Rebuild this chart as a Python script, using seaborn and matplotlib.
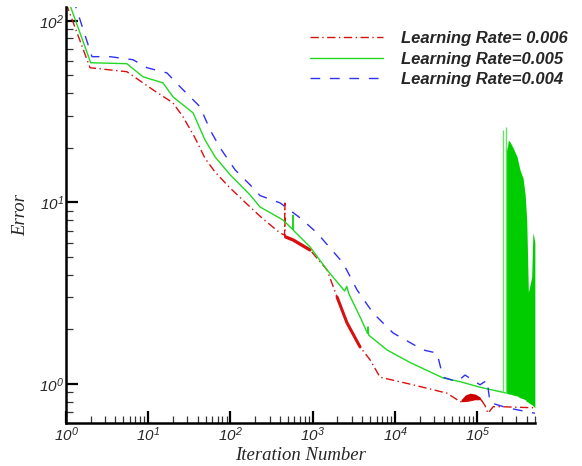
import math
import seaborn as sns
import matplotlib.pyplot as plt
from matplotlib.ticker import LogLocator, FuncFormatter, NullFormatter

# Learning rate 0.006 (red, dash-dot)
red_iter = [1, 1.96, 5.5, 11.4, 20, 26.5, 37, 49, 65, 99, 173, 249, 401, 455, 460, 462,
            470, 578, 700, 929, 1497, 1983, 2620, 3776, 4990, 6607, 16640, 43150, 62100,
            66000, 82000, 100000, 112000, 125000, 136000, 157000, 200000, 300000, 505000]
red_err = [125, 55.1, 52.4, 41.7, 35.3, 29.6, 22.7, 17.5, 14.7, 12.0, 9.44, 8.11, 6.79, 6.6, 9.9, 6.5,
           6.45, 6.21, 5.9, 5.47, 4.25, 3.01, 2.17, 1.60, 1.36, 1.09, 0.99, 0.89, 0.80,
           0.80, 0.81, 0.82, 0.82, 0.76, 0.69, 0.75, 0.75, 0.745, 0.74]
# noisy bump of the red curve near 1e5
red_band_x = [64000, 72000, 82000, 95000, 108000, 115000]
red_band_lo = [0.80, 0.80, 0.81, 0.82, 0.82, 0.80]
red_band_hi = [0.82, 0.87, 0.89, 0.88, 0.85, 0.81]

# Learning rate 0.005 (green, solid)
green_iter = [1, 2.0, 5.5, 8.65, 15.1, 20, 35.1, 49, 65, 99, 173, 229, 436, 570, 578, 586,
              929, 1497, 2450, 2600, 2750, 3776, 4650, 4724, 4800, 8035, 15500, 38550,
              62100, 108700, 207000, 231800]
green_err = [140, 58.7, 58.0, 49.1, 45.5, 38.1, 31.1, 22.1, 17.8, 14.2, 11.0, 9.44, 8.0, 7.1, 8.5, 7.0,
             5.69, 4.25, 3.25, 3.45, 3.15, 2.34, 1.9, 2.06, 1.86, 1.54, 1.31, 1.08,
             1.03, 0.96, 0.90, 0.89]
# oscillating tail of the green curve
osc_x = [226000, 232000, 240000, 252000, 274000, 307000, 333000, 363000, 385000, 402000,
         412000, 421000, 440000, 462000, 478000, 490000, 505000]
osc_hi = [21, 19.4, 22, 21.5, 20, 17.8, 15.1, 13.6, 11, 8.0, 5, 3.2, 3.5, 3.9, 6.8, 6.5, 6.0]
osc_lo = [0.89, 0.89, 0.88, 0.88, 0.87, 0.86, 0.84, 0.83, 0.82, 0.80, 0.80, 0.79, 0.78, 0.77,
          0.76, 0.75, 0.74]
spike_x = [207000, 225000]
spike_top = [25, 26]
spike_bot = [0.90, 0.89]

# Learning rate 0.004 (blue, dashed)
blue_iter = [1, 2.07, 3.43, 6.53, 9.67, 16.9, 24.4, 42.7, 56.5, 74.7, 114, 173, 229, 401, 703,
             1132, 1629, 2344, 3467, 5430, 9510, 22030, 32600, 38550, 57150, 71450, 108700,
             132400, 143900, 231800, 505000]
blue_err = [175, 63.4, 63.4, 61.0, 55.1, 51.6, 43.3, 33.6, 25.1, 20.0, 15.1, 12.5, 10.9, 9.94, 8.22,
            6.79, 5.61, 4.64, 3.30, 2.46, 1.91, 1.54, 1.48, 1.09, 1.03, 1.12, 0.99,
            1.05, 0.79, 0.74, 0.69]

labels = ["Learning Rate= 0.006", "Learning Rate=0.005", "Learning Rate=0.004"]
RED, GREEN, BLUE = "#d81010", "#22d822", "#3030f0"

sns.set_style("white")
plt.rcParams["font.family"] = ["Liberation Sans", "DejaVu Sans"]
plt.rcParams["mathtext.fontset"] = "custom"
plt.rcParams["mathtext.rm"] = "Liberation Sans:italic"
plt.rcParams["mathtext.it"] = "Liberation Sans:italic"

fig = plt.figure(figsize=(5.82, 4.66), dpi=100)
ax = fig.add_axes([66 / 582, 43 / 466, 469 / 582, 416 / 466])
ax.set_xscale("log")
ax.set_yscale("log")

sns.lineplot(x=red_iter, y=red_err, ax=ax, color=RED, lw=1.0, estimator=None, sort=False)
red_line = ax.lines[-1]
red_line.set_dashes((6, 2.5, 1, 2.5))
# thick noisy stretches of the red curve
sns.lineplot(x=red_iter[16:20], y=red_err[16:20], ax=ax, color=RED, lw=2.4, estimator=None, sort=False)
sns.lineplot(x=red_iter[21:24], y=red_err[21:24], ax=ax, color=RED, lw=2.2, estimator=None, sort=False)
ax.fill_between(red_band_x, red_band_lo, red_band_hi, color="#cc0000", lw=0)

sns.lineplot(x=green_iter, y=green_err, ax=ax, color=GREEN, lw=1.0, estimator=None, sort=False)
green_line = ax.lines[-1]
ax.fill_between(osc_x, osc_lo, osc_hi, color="#00cc00", lw=0)
ax.vlines(spike_x, spike_bot, spike_top, color="#66e066", lw=1.0)

sns.lineplot(x=blue_iter, y=blue_err, ax=ax, color=BLUE, lw=1.0, estimator=None, sort=False)
blue_line = ax.lines[-1]
blue_line.set_dashes((7, 7))

ax.set_xlim(1, 5.07e5)
ax.set_ylim(0.61, 119)

for side in ["top", "right"]:
    ax.spines[side].set_visible(False)
for side in ["left", "bottom"]:
    ax.spines[side].set_linewidth(1.8)
    ax.spines[side].set_color("black")

fmt = FuncFormatter(lambda v, p: r"$10^{%d}$" % round(math.log10(v)))
for axis in (ax.xaxis, ax.yaxis):
    axis.set_major_locator(LogLocator(base=10, numticks=20))
    axis.set_minor_locator(LogLocator(base=10, subs=range(2, 10), numticks=20))
    axis.set_major_formatter(fmt)
    axis.set_minor_formatter(NullFormatter())
ax.tick_params(which="major", direction="in", length=8.5, width=1.6, labelsize=11, pad=1.5,
               top=False, right=False, left=True, bottom=True, color="black")
ax.tick_params(which="minor", direction="in", length=5, width=0.9,
               top=False, right=False, left=True, bottom=True, color="#333333")

ax.set_xlabel("Iteration Number", family="Liberation Serif", style="italic", fontsize=13.5)
ax.set_ylabel("Error", family="Liberation Serif", style="italic", fontsize=13.5)
ax.xaxis.set_label_coords(0.5, -0.058)
ax.yaxis.set_label_coords(-0.078, 0.5)

ax.legend([red_line, green_line, blue_line], labels, loc="upper left",
          bbox_to_anchor=(0.52, 0.942), frameon=False, borderpad=0, borderaxespad=0,
          handlelength=4.4, handletextpad=1.05, labelspacing=0.33,
          prop={"family": "Liberation Sans", "weight": "bold", "style": "italic", "size": 12})

fig.savefig("out.png", dpi=100)
